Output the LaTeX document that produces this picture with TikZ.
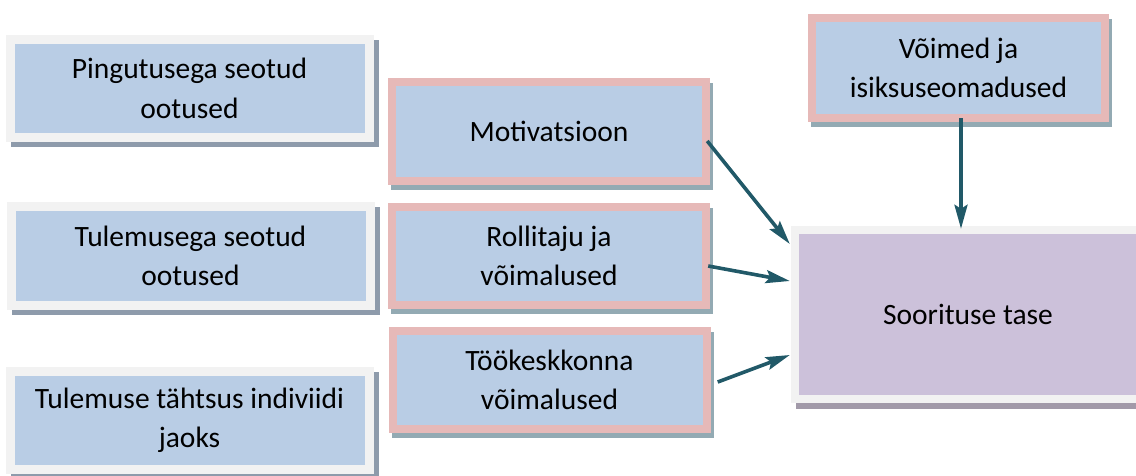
\documentclass[tikz,border=0pt]{standalone}
\usepackage{fontspec}
\setmainfont{Carlito}
\usetikzlibrary{calc,arrows.meta,shadows}

\definecolor{boxblue}{HTML}{B9CDE5}
\definecolor{rimpink}{HTML}{E6B9B8}
\definecolor{rimgray}{HTML}{F2F2F2}
\definecolor{boxlilac}{HTML}{CCC1DA}
\definecolor{linkteal}{HTML}{215968}
\definecolor{shadeleft}{HTML}{8E9BAB}
\definecolor{shademid}{HTML}{93AAB3}
\definecolor{shadelilac}{HTML}{A29AA9}

\tikzset{
  x=1pt, y=-1pt,
  % a filled frame of width #2 around an inner panel of colour #1
  framed/.style 2 args={
    inner sep=0pt, align=center,
    font=\fontsize{29.5}{39.5}\selectfont,
    path picture={
      \fill[#1] ($(path picture bounding box.south west)+(#2pt,#2pt)$)
        rectangle ($(path picture bounding box.north east)-(#2pt,#2pt)$);
    }
  },
  leftbox/.style={framed={boxblue}{9}, fill=rimgray,
    minimum width=368pt, minimum height=107pt,
    general shadow={fill=shadeleft, shadow xshift=5pt, shadow yshift=-5pt}},
  midbox/.style={framed={boxblue}{8}, fill=rimpink,
    minimum width=322pt, minimum height=106pt,
    general shadow={fill=shademid, shadow xshift=3pt, shadow yshift=-5pt}},
  goalbox/.style={framed={boxlilac}{8}, fill=rimgray,
    minimum width=354pt, minimum height=177pt,
    general shadow={fill=shadelilac, shadow xshift=5pt, shadow yshift=-6pt}},
  link/.style={draw=linkteal, line width=3.6pt,
    -{Stealth[length=24pt,width=13pt,inset=4pt]}}
}

\begin{document}
\begin{tikzpicture}
\useasboundingbox (0,0) rectangle (1136,476);
\clip (0,0) rectangle (1136,476);

% expectations column
\node[leftbox] (pin) at (189.5,88.5)  {Pingutusega seotud\\ootused};
\node[leftbox] (tul) at (190.5,256)   {Tulemusega seotud\\ootused};
\node[leftbox] (tah) at (189.5,420.5) {Tulemuse tähtsus indiviidi\\jaoks};

% factors column
\node[midbox, minimum height=107pt] (mot) at (549,131.5) {Motivatsioon};
\node[midbox] (rol) at (549,256)   {Rollitaju ja\\võimalused};
\node[midbox] (too) at (549.5,380) {Töökeskkonna\\võimalused};
\node[midbox, minimum width=301pt, minimum height=108pt] (voi) at (958.5,68)
  {Võimed ja\\isiksuseomadused};

% outcome
\node[goalbox] (soo) at (968,314.5) {Soorituse tase};

% influences on performance
\draw[link] ($(mot.east)+(-3,9.5)$) -- ($(soo.west)+(-1,-70.5)$);
\draw[link] ($(rol.east)+(-2,10)$)  -- ($(soo.west)+(-1,-33.5)$);
\draw[link] ($(too.east)+(7,2)$)    -- ($(soo.west)+(-1,40.5)$);
\draw[link] ($(voi.south)+(2.5,-4)$) -- ($(soo.north)+(-7,3)$);
\end{tikzpicture}
\end{document}
